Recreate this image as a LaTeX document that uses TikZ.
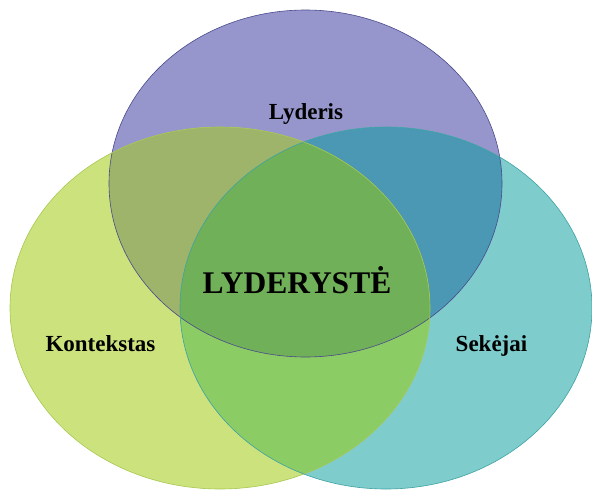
\documentclass[tikz,border=0pt]{standalone}
\usepackage{fontspec}
\setmainfont{Liberation Serif}
\definecolor{cT}{HTML}{9696CC}
\definecolor{cL}{HTML}{CCE27C}
\definecolor{cR}{HTML}{7ECCCC}
\definecolor{cTL}{HTML}{9EB46A}
\definecolor{cTR}{HTML}{4A98B4}
\definecolor{cLR}{HTML}{8CCC64}
\definecolor{cAll}{HTML}{70B058}
\definecolor{bT}{HTML}{4A4A8C}
\definecolor{bL}{HTML}{A8C850}
\definecolor{bR}{HTML}{3FA3A3}
\begin{document}
\begin{tikzpicture}[x=1pt,y=-1pt,
  lbl/.style={font=\bfseries\fontsize{23}{23}\selectfont, anchor=base, inner sep=0pt},
  big/.style={font=\bfseries\fontsize{31.5}{31.5}\selectfont, anchor=base, inner sep=0pt},
  rim/.style={line width=0.6pt}]
\useasboundingbox (0,0) rectangle (592,490);
\def\Etop{(305.5,183.5) ellipse [x radius=196.5pt, y radius=173.5pt]}
\def\Eleft{(220,308) ellipse [x radius=210pt, y radius=181pt]}
\def\Eright{(386,308) ellipse [x radius=206pt, y radius=181pt]}
\fill[cT] \Etop;
\fill[cL] \Eleft;
\fill[cR] \Eright;
\begin{scope}\clip \Etop; \fill[cTL] \Eleft; \end{scope}
\begin{scope}\clip \Etop; \fill[cTR] \Eright; \end{scope}
\begin{scope}\clip \Eleft; \fill[cLR] \Eright; \end{scope}
\begin{scope}\clip \Etop; \clip \Eleft; \fill[cAll] \Eright; \end{scope}
\draw[rim, bT] \Etop;
\draw[rim, bL] \Eleft;
\draw[rim, bR] \Eright;
\node[lbl] (lyderis) at (306,119) {Lyderis};
\node[lbl] (kontekstas) at (100.5,351.5) {Kontekstas};
\node[lbl] (sekejai) at (491.5,351.5) {Sekėjai};
\node[big] (center) at (297,293) {LYDERYSTĖ};
\end{tikzpicture}
\end{document}
